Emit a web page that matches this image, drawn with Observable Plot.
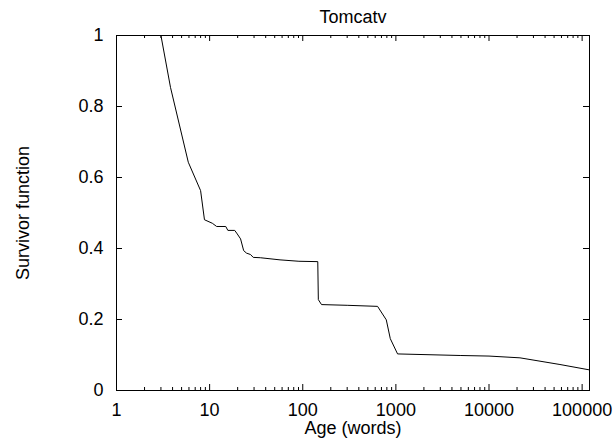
<!DOCTYPE html>
<html><head><meta charset="utf-8">
<script src="https://cdn.jsdelivr.net/npm/d3@7"></script>
<script src="https://cdn.jsdelivr.net/npm/@observablehq/plot@0.6"></script>
<style>body{margin:0;background:#fff}</style>
</head><body><div id="chart"></div>
<script>
const title = "Tomcatv";
const xLabel = "Age (words)";
const yLabel = "Survivor function";
const ages = [3, 3.8, 5.9, 8.0, 8.8, 10.7, 11.9, 14.9, 15.7, 18.6, 19.8, 21.5, 23.2, 24.9, 27.5, 29.4, 35, 57, 91, 145, 147, 159, 300, 636, 789, 871, 1043, 4900, 10000, 21500, 35300, 57800, 120000];
const survival = [1, 0.854, 0.643, 0.563, 0.481, 0.471, 0.462, 0.462, 0.451, 0.451, 0.441, 0.427, 0.394, 0.387, 0.383, 0.375, 0.374, 0.368, 0.364, 0.363, 0.256, 0.242, 0.240, 0.237, 0.199, 0.146, 0.103, 0.0986, 0.097, 0.092, 0.0826, 0.0732, 0.058];
const xDomain = [1, 120000];
const xMajorTicks = [1, 10, 100, 1000, 10000, 100000];
const xTickLabels = ["1", "10", "100", "1000", "10000", "100000"];
const yTicks = [0, 0.2, 0.4, 0.6, 0.8, 1];
const yTickLabels = ["0", "0.2", "0.4", "0.6", "0.8", "1"];

const data = ages.map((a, i) => ({age: a, s: survival[i]}));
const xMinor = [];
for (const d of xMajorTicks) for (let k = 2; k <= 9; k++) if (k * d <= xDomain[1]) xMinor.push(k * d);

const W = 615, H = 439, mL = 116, mR = 26, mT = 35, mB = 49;
const iH = H - mT - mB, iW = W - mL - mR;
const font = "'Liberation Sans', Arial, Helvetica, sans-serif";

const chart = Plot.plot({
  width: W, height: H,
  marginLeft: mL, marginRight: mR, marginTop: mT, marginBottom: mB,
  style: {fontFamily: font, fontSize: "18px", background: "white", color: "black", overflow: "visible"},
  x: {type: "log", domain: xDomain, axis: null},
  y: {domain: [0, 1], axis: null},
  marks: [
    Plot.tickX(xMajorTicks, {x: d => d, insetTop: iH - 6, stroke: "black"}),
    Plot.tickX(xMajorTicks, {x: d => d, insetBottom: iH - 6, stroke: "black"}),
    Plot.tickX(xMinor, {x: d => d, insetTop: iH - 3, stroke: "black"}),
    Plot.tickX(xMinor, {x: d => d, insetBottom: iH - 3, stroke: "black"}),
    Plot.tickY(yTicks, {y: d => d, insetRight: iW - 6, stroke: "black"}),
    Plot.tickY(yTicks, {y: d => d, insetLeft: iW - 6, stroke: "black"}),
    Plot.line(data, {x: "age", y: "s", stroke: "black", strokeWidth: 1, clip: true}),
    Plot.frame({stroke: "black"}),
    Plot.text(xMajorTicks, {x: d => d, text: (d, i) => xTickLabels[i], frameAnchor: "bottom", lineAnchor: "top", dy: 13, fontSize: 18, fontFamily: font, fill: "black"}),
    Plot.text(yTicks, {y: d => d, text: (d, i) => yTickLabels[i], frameAnchor: "left", textAnchor: "end", lineAnchor: "middle", dx: -13, fontSize: 18, fontFamily: font, fill: "black"}),
    Plot.text([title], {frameAnchor: "top", lineAnchor: "bottom", dy: -12.5, fontSize: 18, fontFamily: font, fill: "black"}),
    Plot.text([xLabel], {frameAnchor: "bottom", lineAnchor: "bottom", dy: 43, fontSize: 18, fontFamily: font, fill: "black"}),
    Plot.text([yLabel], {frameAnchor: "left", textAnchor: "middle", lineAnchor: "bottom", rotate: -90, dx: -87.7, fontSize: 18, fontFamily: font, fill: "black"})
  ]
});
document.getElementById("chart").appendChild(chart);
</script>
</body></html>
